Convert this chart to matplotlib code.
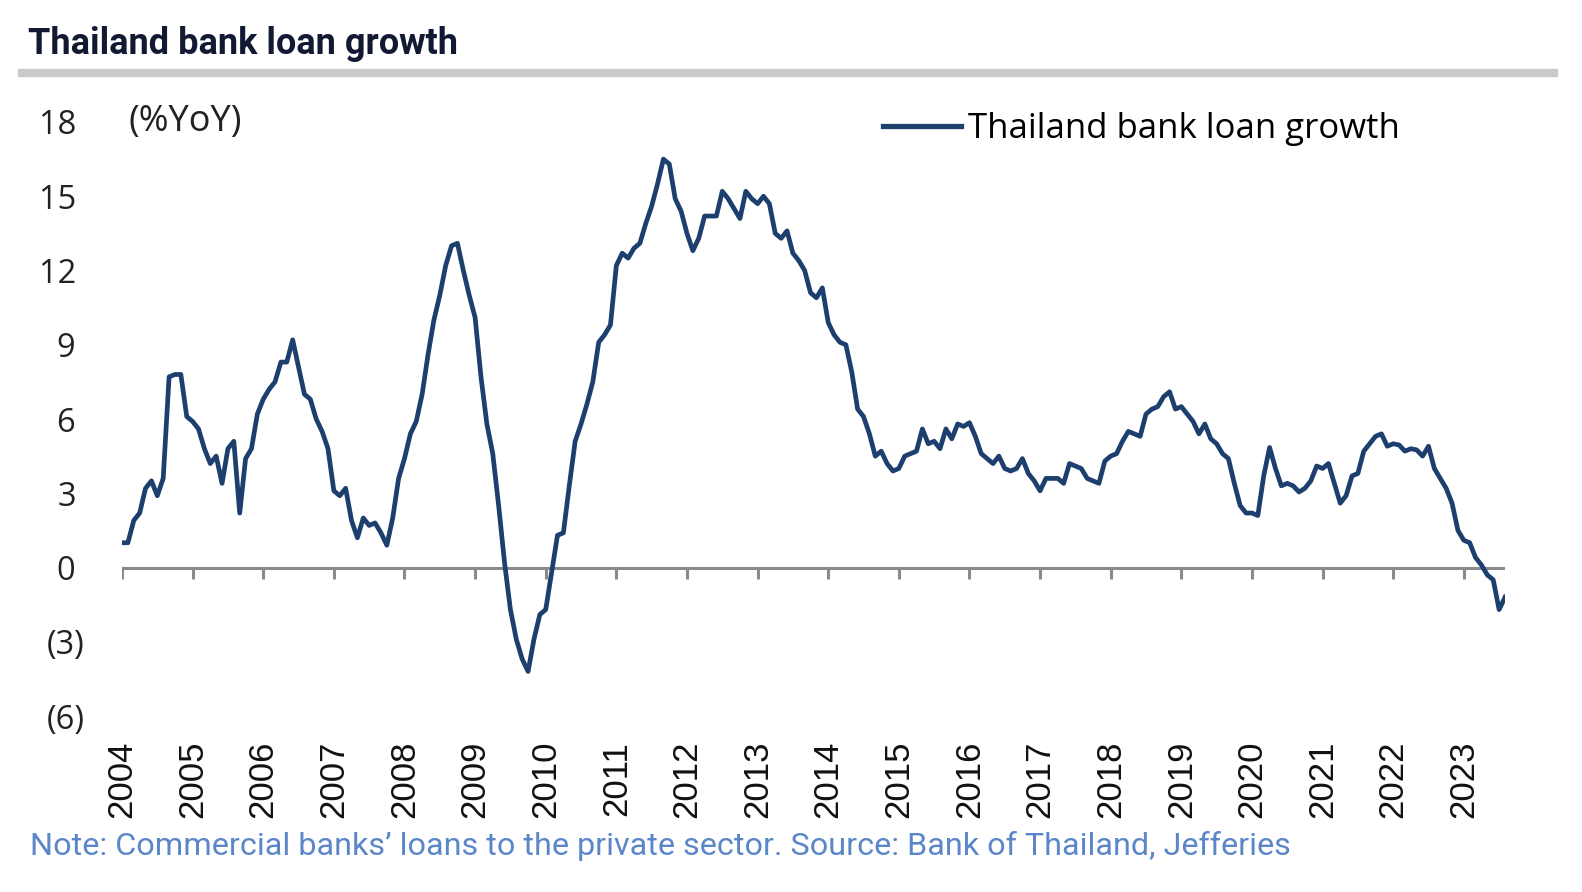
import matplotlib

matplotlib.use("Agg")
import matplotlib.pyplot as plt
import numpy as np

# monthly %YoY, Jan 2004 .. Aug 2023
loan_2004 = [1.0, 1.0, 1.9, 2.2, 3.2, 3.5, 2.9, 3.6, 7.7, 7.8, 7.8, 6.1]
loan_2005 = [5.9, 5.6, 4.8, 4.2, 4.5, 3.4, 4.8, 5.1, 2.2, 4.4, 4.8, 6.2]
loan_2006 = [6.8, 7.2, 7.5, 8.3, 8.3, 9.2, 8.1, 7.0, 6.8, 6.0, 5.5, 4.8]
loan_2007 = [3.1, 2.9, 3.2, 1.9, 1.2, 2.0, 1.7, 1.8, 1.4, 0.9, 2.0, 3.6]
loan_2008 = [4.4, 5.4, 5.9, 7.0, 8.6, 10.0, 11.0, 12.2, 13.0, 13.1, 12.0, 11.0]
loan_2009 = [10.1, 7.7, 5.8, 4.6, 2.5, 0.2, -1.7, -2.9, -3.7, -4.2, -2.9, -1.9]
loan_2010 = [-1.7, -0.2, 1.3, 1.4, 3.3, 5.1, 5.8, 6.6, 7.5, 9.1, 9.4, 9.8]
loan_2011 = [12.2, 12.7, 12.5, 12.9, 13.1, 13.9, 14.6, 15.5, 16.5, 16.3, 14.9, 14.4]
loan_2012 = [13.5, 12.8, 13.3, 14.2, 14.2, 14.2, 15.2, 14.9, 14.5, 14.1, 15.2, 14.9]
loan_2013 = [14.7, 15.0, 14.7, 13.5, 13.3, 13.6, 12.7, 12.4, 12.0, 11.1, 10.9, 11.3]
loan_2014 = [9.9, 9.4, 9.1, 9.0, 7.9, 6.4, 6.1, 5.4, 4.5, 4.7, 4.2, 3.9]
loan_2015 = [4.0, 4.5, 4.6, 4.7, 5.6, 5.0, 5.1, 4.8, 5.6, 5.2, 5.8, 5.7]
loan_2016 = [5.85, 5.3, 4.6, 4.4, 4.2, 4.5, 4.0, 3.9, 4.0, 4.4, 3.8, 3.5]
loan_2017 = [3.1, 3.6, 3.6, 3.6, 3.4, 4.2, 4.1, 4.0, 3.6, 3.5, 3.4, 4.3]
loan_2018 = [4.5, 4.6, 5.1, 5.5, 5.4, 5.3, 6.2, 6.4, 6.5, 6.9, 7.1, 6.4]
loan_2019 = [6.5, 6.2, 5.9, 5.4, 5.8, 5.2, 5.0, 4.6, 4.4, 3.4, 2.5, 2.2]
loan_2020 = [2.2, 2.1, 3.7, 4.85, 4.0, 3.3, 3.4, 3.3, 3.05, 3.2, 3.5, 4.1]
loan_2021 = [4.0, 4.2, 3.4, 2.6, 2.9, 3.7, 3.8, 4.7, 5.0, 5.3, 5.4, 4.9]
loan_2022 = [5.0, 4.95, 4.7, 4.8, 4.75, 4.5, 4.9, 4.0, 3.6, 3.2, 2.6, 1.5]
loan_2023 = [1.1, 1.0, 0.4, 0.1, -0.3, -0.5, -1.7, -1.2]

yearly = [loan_2004, loan_2005, loan_2006, loan_2007, loan_2008, loan_2009,
          loan_2010, loan_2011, loan_2012, loan_2013, loan_2014, loan_2015,
          loan_2016, loan_2017, loan_2018, loan_2019, loan_2020, loan_2021,
          loan_2022, loan_2023]
years = list(range(2004, 2024))
y_ticks = [18, 15, 12, 9, 6, 3, 0, -3, -6]
y_tick_labels = ["18 ", "15 ", "12 ", "9 ", "6 ", "3 ", "0 ", "(3)", "(6)"]

# decimal-year x for each monthly value
x = []
values = []
for yr, vals in zip(years, yearly):
    for m, v in enumerate(vals):
        x.append(yr + m / 12)
        values.append(v)
x = np.array(x)
values = np.array(values)

NAVY = "#1d3f6e"
W, H = 1582, 892
fig = plt.figure(figsize=(W / 100, H / 100), dpi=100)
ax = fig.add_axes([122 / W, 1 - 716 / H, (1505 - 122) / W, (716 - 122) / H])

ax.plot(x, values, color=NAVY, lw=3.4, solid_joinstyle="round",
        label="Thailand bank loan growth")

# zero line with downward year ticks
ax.axhline(0, color="#8a8a8a", lw=2.2, zorder=1)
ax.vlines(years, -0.45, 0, color="#8a8a8a", lw=2.2, zorder=1)

ax.set_xlim(x[0], x[-1])
ax.set_ylim(-6, 18)
for s in ax.spines.values():
    s.set_visible(False)

ax.set_yticks(y_ticks)
ax.set_yticklabels(y_tick_labels, family="Open Sans", fontsize=23.5, color="#222222")
ax.tick_params(axis="y", length=0, pad=27)

ax.set_xticks(years)
ax.set_xticklabels([str(y) for y in years], rotation=90, family="Liberation Sans",
                   fontsize=25, color="#111111")
ax.tick_params(axis="x", length=0, pad=18)

leg = ax.legend(loc="upper left", bbox_to_anchor=(0.540, 1.04), frameon=False,
                prop={"family": "Open Sans", "size": 25}, handlelength=2.25,
                handletextpad=0.22, borderaxespad=0)
for h in leg.get_lines():
    h.set_linewidth(3.8)

fig.text(129 / W, 1 - 122 / H, "(%YoY)", family="Open Sans", fontsize=26,
         color="#222222", va="center", ha="left")

# title + rule
fig.text(28 / W, 1 - 44 / H, "Thailand bank loan growth", family="Roboto",
         weight="bold", fontsize=26, color="#121a33", va="center", ha="left")
fig.add_artist(plt.Line2D([22 / W, 1554 / W], [1 - 73 / H, 1 - 73 / H],
                          color="#cacaca", lw=6, transform=fig.transFigure))

fig.text(30 / W, 1 - 846 / H,
         "Note: Commercial banks\u2019 loans to the private sector. Source: Bank of Thailand, Jefferies",
         family="Roboto", fontsize=23.3, color="#5b86c8", va="center", ha="left")

fig.savefig("out.png", dpi=100)
